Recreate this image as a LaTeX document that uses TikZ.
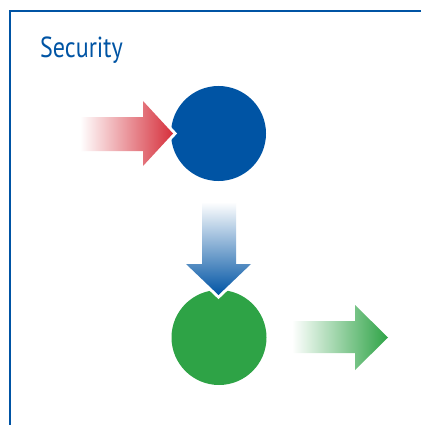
\documentclass[tikz,border=0pt]{standalone}
\usepackage{fontspec}
\setmainfont{PT Sans}
\definecolor{secblue}{RGB}{0,84,164}
\definecolor{secgreen}{RGB}{46,163,70}
\definecolor{secred}{RGB}{214,48,60}
\begin{document}
\begin{tikzpicture}[x=1pt,y=-1pt,
  frame/.style={draw=secblue, line width=2.5pt},
  disc/.style={circle, fill=#1, minimum size=95pt, inner sep=0pt},
  arrowoutline/.style={draw=white, line width=6pt, line join=miter},
  title/.style={text=secblue, font=\fontsize{29}{31}\selectfont, anchor=base west, inner sep=0pt}]
\useasboundingbox (0,0) rectangle (421,425);
% frame
\draw[frame] (421,11) -- (10,11) -- (10,425);
% title
\node[title] (t) at (40,57.5) {\scalebox{0.83}[1]{Security}};
% circles
\node[disc=secblue] (c1) at (218.5,133.5) {};
\node[disc=secgreen] (c2) at (219,337.5) {};
% red arrow into blue circle
\path[arrowoutline] (80,117) -- (143,117) -- (143,101) -- (173,133.5) -- (143,166) -- (143,151) -- (80,151) -- cycle;
\shade[left color=white, right color=secred] (80,117) -- (143,117) -- (143,101) -- (173,133.5) -- (143,166) -- (143,151) -- (80,151) -- cycle;
% blue arrow down into green circle
\path[arrowoutline] (202,202) -- (236,202) -- (236,264) -- (251,264) -- (218.5,295) -- (186,264) -- (202,264) -- cycle;
\shade[top color=white, bottom color=secblue] (202,202) -- (236,202) -- (236,264) -- (251,264) -- (218.5,295) -- (186,264) -- (202,264) -- cycle;
% green arrow out
\shade[left color=white, right color=secgreen] (292,321) -- (355,321) -- (355,305) -- (388,337.5) -- (355,370) -- (355,353) -- (292,353) -- cycle;
\end{tikzpicture}
\end{document}
